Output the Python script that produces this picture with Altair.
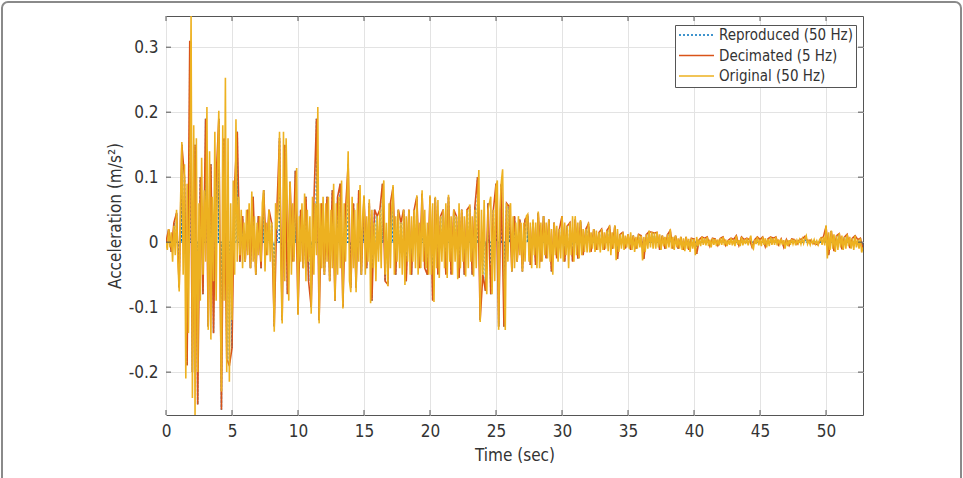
import altair as alt
import pandas as pd

# ---- data ----
series_names = ["Reproduced (50 Hz)", "Decimated (5 Hz)", "Original (50 Hz)"]
series_colors = ["#0072BD", "#D95319", "#EDB120"]
x_ticks = [0, 5, 10, 15, 20, 25, 30, 35, 40, 45, 50]
y_ticks = [-0.2, -0.1, 0, 0.1, 0.2, 0.3]

orig_step = 0.1   # seconds between drawn original samples
dec_step = 0.2    # 5 Hz

original = [
    0, -.012, .02, -.008, .015, -.03, .025, -.02, .05, -.03,
    -.076, .06, .154, -.05, .12, -.21, .09, -.14, .08, .348,
    -.24, .18, -.266, .16, -.2, .06, -.09, .13, -.05, .08,
    -.03, .208, -.135, .14, -.15, .07, -.06, .17, -.09, .11,
    .202, -.08, -.23, .18, -.09, .253, -.2, .16, -.215, .06,
    -.12, .095, -.05, .189, -.03, .07, -.02, .05, -.04, .03,
    -.03, .05, -.02, .06, -.04, .078, -.03, .04, -.05, .03,
    -.02, .04, -.03, .06, .08, -.045, .03, -.02, .05, -.03,
    .03, -.02, -.138, .06, .02, .05, .17, -.04, -.125, .17,
    -.06, .16, .04, -.09, .093, -.05, .06, -.03, .05, .114,
    -.112, .04, -.03, .06, -.04, .075, -.06, .05, -.03, .04,
    -.11, .07, -.05, .06, -.02, .208, -.125, .06, -.04, .07,
    -.05, .06, -.03, .07, -.06, .05, -.04, .09, -.09, .06,
    -.05, .07, -.04, .095, -.102, .06, -.03, .05, .14, -.06,
    -.077, .07, -.04, .05, -.077, .06, -.03, .088, -.05, .04,
    .072, -.05, .04, -.03, .066, -.094, .05, -.04, .03, -.06,
    .04, -.03, .05, -.04, .06, .095, -.05, .03, -.068, .06,
    -.04, .05, .088, -.05, .04, -.03, .05, -.04, .03, -.05,
    .05, -.066, .04, -.03, .05, -.05, .04, -.03, .05, -.04,
    .072, -.05, .03, -.04, .08, -.03, .05, -.04, .03, -.05,
    .072, -.05, .06, -.092, .07, -.04, .065, -.055, .04, -.03,
    .05, -.04, .06, -.055, .073, -.03, .04, -.05, .05, -.03,
    .04, -.057, .06, -.04, .05, -.03, .04, -.053, .05, -.04,
    .058, -.03, .04, -.053, .05, -.04, .058, .111, -.123, .05,
    -.05, .065, -.04, -.08, .05, .06, .07, -.08, .05, -.06,
    .085, .095, -.135, .05, .092, .112, -.04, -.135, .06, -.03,
    .05, .06, -.045, .04, -.04, .03, -.03, .04, -.02, .03,
    -.045, .03, -.03, .04, .043, -.03, .03, -.04, .035, -.02,
    .03, -.04, .047, -.04, .03, -.03, .04, -.02, .03, -.025,
    .035, -.03, .02, -.05, .03, -.02, .025, -.03, .02, -.025,
    .04, -.03, .03, -.02, .025, -.04, .03, -.02, .04, -.03,
    .04, -.02, .03, -.025, .034, -.02, .02, -.015, .02, -.016,
    .03, -.016, .015, -.01, .02, -.015, .018, -.012, .015, -.016,
    .02, -.012, .015, -.01, .018, -.014, .026, -.02, .015, -.01,
    .026, -.028, .02, -.015, .012, -.01, .015, -.012, .01, -.008,
    .012, -.01, .015, -.012, .01, -.015, .008, -.01, .012, -.008,
    .01, -.028, .008, -.015, .012, -.01, .018, -.008, .016, -.01,
    .015, -.01, .016, -.008, .012, -.012, .01, -.006, .008, -.01,
    .012, -.008, .02, -.01, .008, -.012, .01, -.008, .006, -.01,
    .008, -.012, .006, -.014, .008, -.01, .005, -.015, .006, -.01,
    .005, -.02, .008, -.006, .004, -.006, .008, -.004, .006, -.005,
    .008, -.006, .004, -.008, .006, -.004, .005, -.006, .004, -.005,
    .006, -.004, .008, -.005, .004, -.006, .003, -.004, .006, -.005,
    .004, -.006, .01, -.004, .003, -.006, .008, -.005, .004, -.003,
    .006, -.005, .004, .01, -.006, -.01, .004, -.003, .008, -.005,
    .004, -.006, .008, -.004, .006, -.008, .005, -.006, .008, -.004,
    .006, -.004, .008, -.005, .004, -.003, .005, -.004, .003, -.01,
    .004, -.006, .003, -.004, .005, -.003, .004, -.005, .003, -.002,
    .004, -.003, .005, -.002, .006, .01, -.003, .002, -.004, .003,
    -.002, .004, -.003, .002, -.004, .003, .006, -.004, .008, -.005,
    .026, -.025, .015, -.012, .018, -.01, .012, -.015, .01, -.012,
    .014, -.008, .01, -.012, .008, -.01, .012, -.006, .008, -.01,
    .006, -.012, .01, -.008, .004, -.01, .006, -.016, -.008,
]

decimated = [
    0, .02, -.015, .03, .045,
    -.07, .15, .1, -.19, .31,
    -.2, .15, -.25, .1, -.08,
    .19, -.13, .12, -.14, .1,
    .19, -.258, .16, -.18, -.19,
    -.163, .09, .17, -.03, .04,
    -.03, .05, -.04, .07, -.05,
    .04, -.04, .08, -.02, .05,
    .03, -.13, .05, .16, -.12,
    .15, -.08, .093, -.03, .11,
    -.11, .05, -.04, .07, -.06,
    -.1, .06, .19, -.12, .06,
    -.05, .07, -.06, .08, -.09,
    .07, .09, -.1, .05, .12,
    -.07, .06, -.07, .08, -.05,
    .07, -.04, .06, -.09, .05,
    .04, .05, .09, -.06, -.065,
    .06, .085, -.05, .05, .03,
    .05, -.06, .05, -.05, .05,
    .07, -.04, .075, -.04, -.05,
    .07, -.09, .068, -.05, .04,
    .05, -.05, .07, -.05, .05,
    .04, -.055, .05, -.05, .05,
    .055, -.05, .055, .1, -.12,
    -.05, -.075, .06, -.08, .05,
    .09, -.13, .09, -.13, .06,
    .055, -.045, .04, -.03, .035,
    -.045, .035, .04, -.035, .03,
    -.035, .045, -.03, .04, -.025,
    .035, -.045, .03, -.025, .02,
    .04, -.03, .025, .03, -.03,
    .035, -.025, .032, -.02, .02,
    .028, -.015, .02, -.012, .015,
    .02, -.012, .018, .024, -.01,
    .025, -.026, .012, .015, -.01,
    .012, -.012, .01, -.01, .012,
    .01, -.026, .012, .016, .015,
    .014, .015, -.012, .01, -.01,
    .012, .018, -.01, .01, -.01,
    .008, -.012, .008, -.012, .006,
    .005, -.018, .004, .008, .006,
    .008, -.006, .006, .005, -.005,
    .006, .008, -.005, .003, .006,
    .004, .01, -.005, .008, .004,
    .006, .004, -.008, .004, .008,
    .004, .008, -.007, .005, .008,
    .006, .008, -.004, .005, -.008,
    .004, -.005, .005, .004, -.003,
    .004, .005, .009, .002, .003,
    -.002, -.003, -.004, .006, .008,
    .024, -.02, .017, -.014, .01,
    .013, -.011, .008, .012, -.009,
    .006, .01, .004, .006, -.01,
]

# ---- tables ----
orig_df = pd.DataFrame({
    "t": [round(i * orig_step, 3) for i in range(len(original))],
    "v": original,
    "series": series_names[2],
})
orig_df["i"] = range(len(orig_df))

dec_df = pd.DataFrame({
    "t": [round(i * dec_step, 3) for i in range(len(decimated))],
    "v": decimated,
    "series": series_names[1],
})
dec_df["i"] = range(len(dec_df))

# reproduced at 50 Hz: decimated samples with zeros inserted between them
rep_t, rep_v = [], []
for i, val in enumerate(decimated):
    t0 = round(i * dec_step, 3)
    rep_t.append(t0)
    rep_v.append(val)
    if i < len(decimated) - 1:
        rep_t += [round(t0 + 0.02, 3), round(t0 + 0.18, 3)]
        rep_v += [0, 0]
rep_df = pd.DataFrame({"t": rep_t, "v": rep_v, "series": series_names[0]})
rep_df["i"] = range(len(rep_df))

y_min, y_max = min(original), max(original)
x_max = orig_df["t"].max()

W, H = 697, 399
FONT = "DejaVu Sans Condensed, DejaVu Sans"
TXT = "#333333"

x_scale = alt.Scale(domain=[0, x_max], nice=False, zero=False)
y_scale = alt.Scale(domain=[y_min, y_max], nice=False, zero=False)

x_axis = alt.Axis(values=x_ticks, title="Time (sec)", grid=True, domain=False, ticks=False,
                  labelPadding=8, labelFontSize=17, titleFontSize=17, titlePadding=8,
                  labelFont=FONT, titleFont=FONT, labelColor=TXT, titleColor=TXT,
                  titleFontWeight="normal", labelFlush=False)
y_axis = alt.Axis(values=y_ticks, title="Acceleration (m/s²)", grid=True, domain=False, ticks=False,
                  labelPadding=8, labelFontSize=17, titleFontSize=17, titlePadding=4,
                  labelFont=FONT, titleFont=FONT, labelColor=TXT, titleColor=TXT,
                  titleFontWeight="normal", labelFlush=False,
                  labelExpr="datum.value == 0 ? '0' : (datum.value < 0 ? '-' + format(-datum.value, '.1f') : format(datum.value, '.1f'))")

X = alt.X("t:Q", scale=x_scale, axis=x_axis)
Y = alt.Y("v:Q", scale=y_scale, axis=y_axis)

color_enc = alt.Color("series:N", title=None,
                      scale=alt.Scale(domain=series_names, range=series_colors),
                      legend=alt.Legend(orient="none", legendX=509, legendY=9, title=None,
                                        symbolType="stroke", symbolSize=1225, symbolStrokeWidth=1.5,
                                        labelFontSize=15, labelFont=FONT, labelColor=TXT,
                                        clipHeight=14, rowPadding=5.5, labelOffset=4,
                                        padding=3, strokeColor="#555555", fillColor="white",
                                        cornerRadius=0))
dash_enc = alt.StrokeDash("series:N", title=None,
                          scale=alt.Scale(domain=series_names, range=[[2, 2], [1, 0], [1, 0]]))

def series_layer(df, width):
    return alt.Chart(df).mark_line(strokeWidth=width, clip=True, interpolate="linear").encode(
        x=X, y=Y, color=color_enc, strokeDash=dash_enc, order="i:Q")

rep_layer = series_layer(rep_df, 1.5)
dec_layer = series_layer(dec_df, 1.6)
orig_layer = series_layer(orig_df, 1.6)

# inward tick marks on all four sides (MATLAB style box)
xt = pd.DataFrame({"t": x_ticks})
yt = pd.DataFrame({"v": y_ticks})
tick_color = "#555555"
xt_bottom = alt.Chart(xt).mark_rule(color=tick_color, strokeWidth=1).encode(
    x=X, y=alt.value(H), y2=alt.value(H - 5))
xt_top = alt.Chart(xt).mark_rule(color=tick_color, strokeWidth=1).encode(
    x=X, y=alt.value(0), y2=alt.value(5))
yt_left = alt.Chart(yt).mark_rule(color=tick_color, strokeWidth=1).encode(
    y=Y, x=alt.value(0), x2=alt.value(5))
yt_right = alt.Chart(yt).mark_rule(color=tick_color, strokeWidth=1).encode(
    y=Y, x=alt.value(W), x2=alt.value(W - 5))

# outer figure frame
frame = alt.Chart(pd.DataFrame({"a": [0]})).mark_rect(
    fillOpacity=0, stroke="#8a8a8a", strokeWidth=2, cornerRadius=6, clip=False
).encode(x=alt.value(-164), x2=alt.value(795), y=alt.value(-14), y2=alt.value(480))

chart = alt.layer(
    rep_layer, dec_layer, orig_layer,
    xt_bottom, xt_top, yt_left, yt_right, frame
).properties(
    width=W, height=H,
    autosize=alt.AutoSizeParams(type="none"),
    padding={"left": 166, "top": 16, "right": 100, "bottom": 63},
    background="white",
).configure_view(
    stroke="#555555", strokeWidth=1
).configure_axis(
    gridColor="#e3e3e3", gridWidth=1
)

chart.save("out.html", embed_options={"renderer": "svg", "actions": False})
